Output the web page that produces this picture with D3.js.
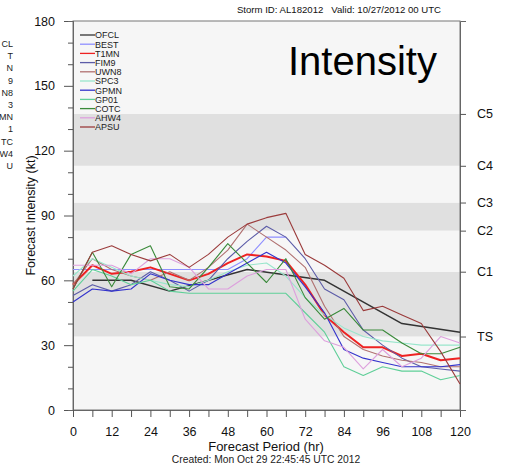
<!DOCTYPE html>
<html>
<head>
<meta charset="utf-8">
<script src="https://cdn.jsdelivr.net/npm/d3@7"></script>
<style>
  body { margin: 0; background: #fff; }
  svg { font-family: "Liberation Sans", Arial, Helvetica, sans-serif; }
</style>
</head>
<body>
<div id="chart"></div>
<script>
// forecast hours, every 6 hr
const hours = [0,6,12,18,24,30,36,42,48,54,60,66,72,78,84,90,96,102,108,114,120];

// intensity (kt) per model, null = no value
const OFCL = [null,60,null,60,null,55,null,null,null,65,null,null,null,60,null,null,null,40,null,null,36];
const BEST = [65,65,65,65,65,65,65,65,65,70,80,80,null,null,null,null,null,null,null,null,null];
const T1MN = [58,67,63,64,66,63,60,63,68,72,71,69,58,44,36,29,29,25,26,23,24];
const FIM9 = [53,58,55,58,64,60,55,60,70,78,85,80,70,56,51,37,30,24,20,19,18];
const UWN8 = [58,70,65,62,60,64,60,66,74,86,80,74,66,48,34,28,25,23,22,20,20];
const SPC3 = [62,70,66,62,60,58,57,60,64,67,68,62,52,44,38,34,32,31,30,30,30];
const GPMN = [50,56,55,56,63,60,58,58,63,68,73,68,57,45,28,24,22,20,20,20,21];
const GP01 = [55,65,62,58,60,55,54,54,54,54,54,54,45,36,20,16,20,18,18,14,16];
const COTC = [56,73,57,72,76,57,56,66,77,68,59,70,52,42,47,37,37,31,26,26,29];
const AHW4 = [67,67,67,63,70,70,66,56,56,62,65,65,42,32,29,19,28,20,24,34,31];
const APSU = [56,73,76,72,69,72,66,72,80,86,89,91,72,67,61,46,48,44,40,27,12];

const modelNames = ["OFCL","BEST","T1MN","FIM9","UWN8","SPC3","GPMN","GP01","COTC","AHW4","APSU"];
const modelValues = [OFCL,BEST,T1MN,FIM9,UWN8,SPC3,GPMN,GP01,COTC,AHW4,APSU];
const modelColors = ["#333333","#8f8fff","#ee2222","#5c5ca8","#b07070","#99e6cc","#3333cc","#5fcf98","#3a8a3a","#dda0dd","#9b3b3b"];

// Saffir-Simpson thresholds
const catTicks = [34,64,83,96,113,137];
const catLabels = ["TS","C1","C2","C3","C4","C5"];

// cut-off legend of the neighbouring panel
const leftFragments = ["CL","T","N","9","N8","3","MN","1","TC","W4","U"];

const width = 511;
const height = 465;
const margin = {left:73, right:51, top:21, bottom:55};

const svg = d3.select("#chart")
  .append("svg")
  .attr("width", width)
  .attr("height", height);

const x = d3.scaleLinear().domain([0,120]).range([margin.left, width - margin.right]);
const y = d3.scaleLinear().domain([0,180]).range([height - margin.bottom, margin.top]);

// background bands
const bounds = [0].concat(catTicks, [180]);
svg.selectAll(".band")
  .data(d3.range(bounds.length - 1))
  .enter()
  .append("rect")
    .attr("x", x(0))
    .attr("width", x(120) - x(0))
    .attr("y", i => y(bounds[i+1]))
    .attr("height", i => y(bounds[i]) - y(bounds[i+1]))
    .attr("fill", i => i % 2 === 1 ? "#e0e0e0" : "#f6f6f6");

// plot frame
svg.append("rect")
  .attr("x", x(0)).attr("y", y(180))
  .attr("width", x(120) - x(0)).attr("height", y(0) - y(180))
  .attr("fill", "none").attr("stroke", "#777").attr("stroke-width", 1);

// left axis: major + minor ticks
svg.append("g")
  .attr("transform", `translate(${x(0)},0)`)
  .call(d3.axisLeft(y).tickValues(d3.range(0,181,30)).tickSize(9).tickPadding(9));
svg.append("g")
  .attr("transform", `translate(${x(0)},0)`)
  .call(d3.axisLeft(y).tickValues(d3.range(0,181,10).filter(d => d % 30)).tickSize(5).tickFormat(""));

// bottom axis
svg.append("g")
  .attr("transform", `translate(0,${y(0)})`)
  .call(d3.axisBottom(x).tickValues(d3.range(0,121,6)).tickSize(7).tickPadding(10)
        .tickFormat(d => d % 12 === 0 ? d : ""));

// right axis with categories
svg.append("g")
  .attr("transform", `translate(${x(120)},0)`)
  .call(d3.axisRight(y).tickValues(catTicks).tickSize(6).tickPadding(11)
        .tickFormat((d,i) => catLabels[i]));

svg.selectAll(".domain").attr("stroke", "#666");
svg.selectAll(".tick line").attr("stroke", "#555");
svg.selectAll(".tick text").attr("font-size", "12.5px").attr("fill", "#111")
  .attr("font-family", "'Liberation Sans', Arial, sans-serif");

// lines
const line = d3.line().x(d => x(d[0])).y(d => y(d[1]));
modelNames.forEach((name, k) => {
  const pts = hours.map((h,i) => [h, modelValues[k][i]]).filter(d => d[1] != null);
  svg.append("path")
    .datum(pts)
    .attr("fill", "none")
    .attr("stroke", modelColors[k])
    .attr("stroke-width", name === "T1MN" ? 2 : (name === "OFCL" ? 1.5 : 1.1))
    .attr("stroke-linejoin", "round")
    .attr("d", line);
});

// legend
const legend = svg.append("g").attr("transform", "translate(80,35)");
modelNames.forEach((name, k) => {
  legend.append("line")
    .attr("x1", 0).attr("x2", 15)
    .attr("y1", k * 9.2).attr("y2", k * 9.2)
    .attr("stroke", modelColors[k]).attr("stroke-width", 1.3);
  legend.append("text")
    .attr("x", 15).attr("y", k * 9.2 + 3.3)
    .attr("font-size", "9px").attr("fill", "#222")
    .text(name);
});

// fragments at the left edge
leftFragments.forEach((t, k) => {
  svg.append("text")
    .attr("x", 13).attr("y", 47 + k * 12.2)
    .attr("text-anchor", "end")
    .attr("font-size", "9px").attr("fill", "#222")
    .text(t);
});

// texts
svg.append("text")
  .attr("x", 339).attr("y", 13)
  .attr("text-anchor", "middle").attr("font-size", "9.6px").attr("fill", "#111")
  .text("Storm ID: AL182012   Valid: 10/27/2012 00 UTC")
  .style("white-space", "pre");

svg.append("text")
  .attr("x", 288).attr("y", 75)
  .attr("font-size", "40px").attr("fill", "#000")
  .text("Intensity");

svg.append("text")
  .attr("transform", `translate(35,${(y(0)+y(180))/2}) rotate(-90)`)
  .attr("text-anchor", "middle").attr("font-size", "12.5px").attr("fill", "#111")
  .text("Forecast Intensity (kt)");

svg.append("text")
  .attr("x", 266).attr("y", 451)
  .attr("text-anchor", "middle").attr("font-size", "13px").attr("fill", "#111")
  .text("Forecast Period (hr)");

svg.append("text")
  .attr("x", 266).attr("y", 463)
  .attr("text-anchor", "middle").attr("font-size", "10.3px").attr("fill", "#222")
  .text("Created: Mon Oct 29 22:45:45 UTC 2012");
</script>
</body>
</html>
